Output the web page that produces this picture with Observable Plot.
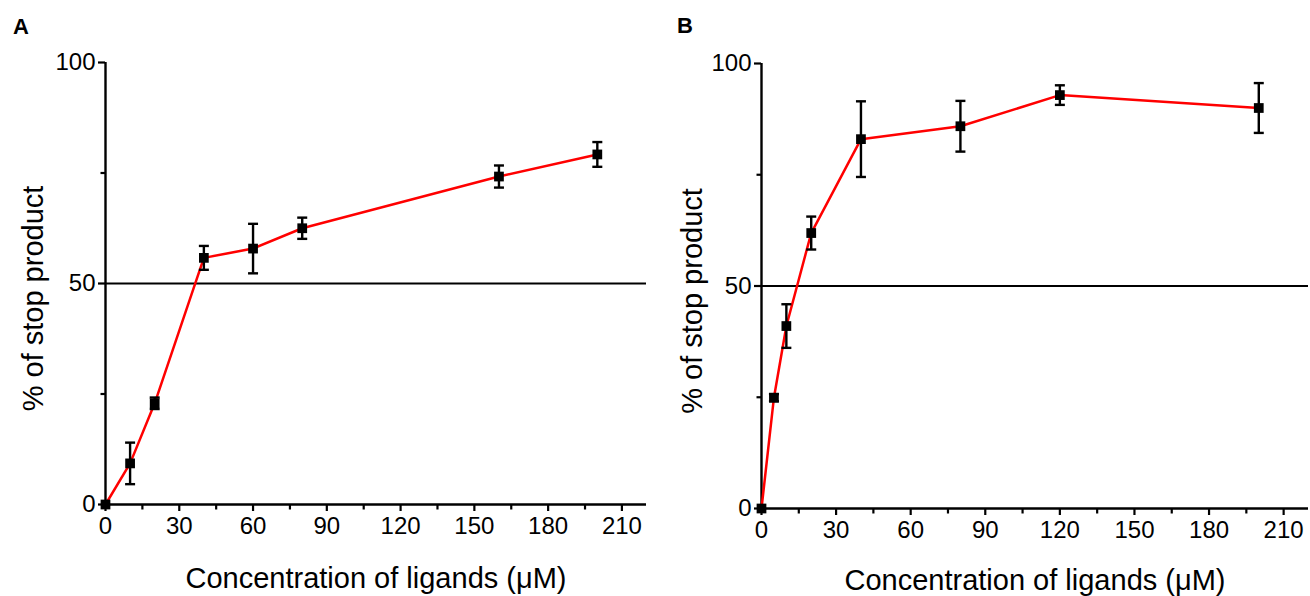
<!DOCTYPE html>
<html>
<head>
<meta charset="utf-8">
<script src="https://cdn.jsdelivr.net/npm/d3@7"></script>
<script src="https://cdn.jsdelivr.net/npm/@observablehq/plot@0.6"></script>
<style>
  body { margin: 0; background: #ffffff; }
  #wrap { position: relative; width: 1310px; height: 596px; font-family: "Liberation Sans", Arial, sans-serif; }
  .panel { position: absolute; top: 0; }
  .letter { position: absolute; font-weight: bold; font-size: 22px; line-height: 1; color: #000; }
</style>
</head>
<body>
<div id="wrap">
  <div class="letter" style="left:13px; top:16px;">A</div>
  <div class="letter" style="left:677px; top:15px;">B</div>
  <div id="pA" class="panel" style="left:0px;"></div>
  <div id="pB" class="panel" style="left:655px;"></div>
</div>
<script>
// ---- data ----
const concA = [0, 10, 20, 40, 60, 80, 160, 200];
const pctA  = [0, 9.3, 22.9, 55.8, 57.9, 62.5, 74.2, 79.2];
const errA  = [0, 4.7, 1.3, 2.7, 5.6, 2.4, 2.5, 2.8];

const concB = [0, 5, 10, 20, 40, 80, 120, 200];
const pctB  = [0, 24.9, 41.0, 61.9, 83.0, 85.9, 92.9, 90.0];
const errB  = [0, 0.8, 4.9, 3.7, 8.5, 5.7, 2.2, 5.6];

const xTicks = [0, 30, 60, 90, 120, 150, 180, 210];
const xMinor = [15, 45, 75, 105, 135, 165, 195];
const yTicks = [0, 50, 100];
const yMinor = [25, 75];
const refLine = [50];

const xTitle = "Concentration of ligands (\u03BCM)";
const yTitle = "% of stop product";

const FONT = "'Liberation Sans', Arial, sans-serif";

// pixel-sized symbols
const capSymbol = {
  draw(ctx, size) {
    const w = Math.sqrt(size / Math.PI);
    ctx.moveTo(-w, 0);
    ctx.lineTo(w, 0);
  }
};
const downTick = {
  draw(ctx, size) {
    const l = Math.sqrt(size / Math.PI);
    ctx.moveTo(0, 0);
    ctx.lineTo(0, l);
  }
};
const leftTick = {
  draw(ctx, size) {
    const l = Math.sqrt(size / Math.PI);
    ctx.moveTo(0, 0);
    ctx.lineTo(-l, 0);
  }
};

function panel(conc, pct, err, m, ydx, ydy, xdy) {
  const rows = conc.map((x, i) => ({x, y: pct[i], e: err[i]}));
  const withErr = rows.filter(d => d.e > 0);
  return Plot.plot({
    width: 655,
    height: 596,
    marginLeft: m.left,
    marginRight: m.right,
    marginTop: m.top,
    marginBottom: m.bottom,
    x: {domain: [0, 220], axis: null},
    y: {domain: [0, 100], axis: null},
    style: {fontFamily: FONT, color: "#000", background: "transparent", overflow: "visible"},
    marks: [
      Plot.ruleY(refLine, {stroke: "#000", strokeWidth: 2.2}),
      Plot.ruleY([0], {stroke: "#000", strokeWidth: 2.4}),
      Plot.ruleX([0], {stroke: "#000", strokeWidth: 2.4}),
      Plot.axisX({ticks: xTicks, tickSize: 7, strokeWidth: 2.2, tickPadding: 5, fontSize: 24, label: null}),
      Plot.dot(xMinor, {x: d => d, y: () => 0, symbol: downTick, r: 5, stroke: "#000", strokeWidth: 2.2, fill: "none"}),
      Plot.axisY({ticks: yTicks, tickSize: 7, strokeWidth: 2.2, tickPadding: 3, fontSize: 24, label: null}),
      Plot.dot(yMinor, {x: () => 0, y: d => d, symbol: leftTick, r: 5, stroke: "#000", strokeWidth: 2.2, fill: "none"}),
      Plot.line(rows, {x: "x", y: "y", stroke: "#ff0000", strokeWidth: 2.5}),
      Plot.ruleX(withErr, {x: "x", y1: d => d.y - d.e, y2: d => d.y + d.e, stroke: "#000", strokeWidth: 2.4}),
      Plot.dot(withErr, {x: "x", y: d => d.y + d.e, symbol: capSymbol, r: 5, stroke: "#000", strokeWidth: 2.4, fill: "none"}),
      Plot.dot(withErr, {x: "x", y: d => d.y - d.e, symbol: capSymbol, r: 5, stroke: "#000", strokeWidth: 2.4, fill: "none"}),
      Plot.dot(rows, {x: "x", y: "y", symbol: "square", r: 5.5, fill: "#000", stroke: "none"}),
      Plot.text([xTitle], {frameAnchor: "bottom", dy: xdy, fontSize: 29, textAnchor: "middle", lineAnchor: "middle", fill: "#000"}),
      Plot.text([yTitle], {frameAnchor: "left", dx: ydx, dy: ydy, rotate: -90, fontSize: 29, textAnchor: "middle", lineAnchor: "middle", fill: "#000"})
    ]
  });
}

document.getElementById("pA").append(
  panel(concA, pctA, errA, {left: 105, right: 9, top: 62, bottom: 92}, -72, 15, 74)
);
document.getElementById("pB").append(
  panel(concB, pctB, errB, {left: 106, right: 2, top: 63, bottom: 88}, -69, 15, 72)
);
</script>
</body>
</html>
